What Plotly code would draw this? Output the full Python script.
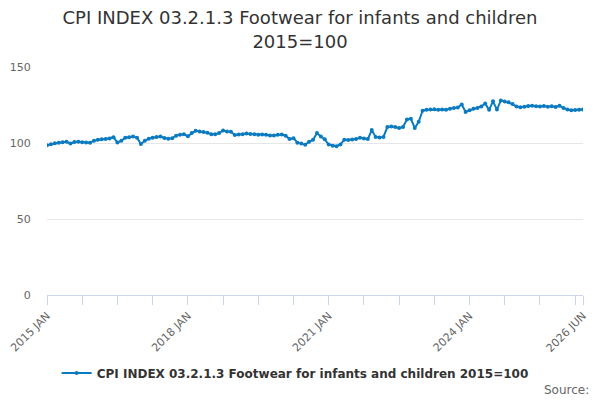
import plotly.graph_objects as go

years = list(range(2015, 2027))
month_names = ["JAN", "FEB", "MAR", "APR", "MAY", "JUN",
               "JUL", "AUG", "SEP", "OCT", "NOV", "DEC"]

v2015 = [98.5, 99.2, 99.8, 100.2, 100.5, 100.8, 99.6, 100.6, 100.8, 100.5, 100.3, 100.2]
v2016 = [101.5, 102.2, 102.4, 102.6, 103.0, 103.8, 100.3, 101.5, 103.5, 103.8, 104.2, 103.5]
v2017 = [99.3, 101.5, 102.8, 103.5, 104.0, 104.2, 103.3, 102.8, 103.2, 104.8, 105.5, 105.8]
v2018 = [104.5, 106.5, 108.0, 107.5, 107.2, 106.8, 105.8, 105.8, 106.5, 108.2, 107.6, 107.4]
v2019 = [105.3, 105.6, 105.8, 106.2, 105.9, 105.7, 105.4, 105.6, 105.5, 104.9, 105.0, 105.4]
v2020 = [105.6, 104.8, 102.6, 103.2, 100.2, 99.6, 98.9, 100.8, 102.2, 106.5, 104.2, 102.4]
v2021 = [99.0, 98.2, 97.9, 99.0, 102.2, 102.0, 102.3, 102.7, 103.5, 103.0, 102.6, 108.5]
v2022 = [104.0, 103.7, 104.0, 110.5, 110.8, 110.5, 109.8, 110.6, 115.5, 116.0, 109.8, 114.0]
v2023 = [121.2, 121.8, 122.0, 122.2, 121.9, 122.0, 121.8, 122.5, 123.0, 123.4, 125.3, 120.4]
v2024 = [121.5, 122.5, 123.0, 124.0, 126.0, 121.8, 127.4, 122.0, 128.0, 127.3, 126.8, 125.6]
v2025 = [124.0, 123.5, 123.9, 124.3, 124.5, 124.2, 124.0, 124.3, 123.8, 124.1, 123.7, 124.5]
v2026 = [123.0, 122.0, 121.6, 121.7, 121.8, 122.0]

values = v2015 + v2016 + v2017 + v2018 + v2019 + v2020 + v2021 + v2022 + v2023 + v2024 + v2025 + v2026
months = [f"{y} {m}" for y in years for m in month_names][:len(values)]

label_months = ["2015 JAN", "2018 JAN", "2021 JAN", "2024 JAN", "2026 JUN"]
y_ticks = [0, 50, 100, 150]

series_name = "CPI INDEX 03.2.1.3 Footwear for infants and children 2015=100"
title_text = "CPI INDEX 03.2.1.3 Footwear for infants and children<br>2015=100"

tick_idx = list(range(0, len(months), 9))
if tick_idx[-1] != len(months) - 1:
    tick_idx.append(len(months) - 1)
tickvals = [months[i] for i in tick_idx]
ticktext = [m if m in label_months else "" for m in tickvals]

fig = go.Figure()
fig.add_trace(go.Scatter(
    x=months, y=values, mode="lines+markers", name=series_name,
    line=dict(color="#0b7bc1", width=2),
    marker=dict(color="#0b7bc1", size=4),
))

fig.update_layout(
    width=600, height=400,
    margin=dict(l=47, r=17, t=67, b=105, autoexpand=False),
    paper_bgcolor="white", plot_bgcolor="white",
    font=dict(family="DejaVu Sans", color="#666666"),
    title=dict(text=title_text, x=0.5, xanchor="center", y=0.939, yanchor="top",
               font=dict(size=18, color="#333333", family="DejaVu Sans")),
    showlegend=True,
    legend=dict(orientation="h", x=0.463, xanchor="center", yref="container", y=0.0675,
                yanchor="middle", font=dict(size=12, color="#333333", weight="bold"),
                itemwidth=30),
    xaxis=dict(type="category", range=[0, len(months) - 1], tickvals=tickvals,
               ticktext=ticktext, tickangle=-45, ticks="outside", ticklen=9,
               tickcolor="#ccd6eb", showline=True, linecolor="#ccd6eb", linewidth=1,
               showgrid=False, zeroline=False, automargin=False,
               tickfont=dict(size=11, color="#666666")),
    yaxis=dict(range=[0, 150], tickvals=y_ticks, showgrid=True, gridcolor="#e6e6e6",
               zeroline=False, showline=False, automargin=False,
               tickfont=dict(size=11, color="#666666"),
               ticks="outside", ticklen=13, tickcolor="rgba(0,0,0,0)"),
    annotations=[dict(text="Source:", xref="paper", yref="paper", x=1.014, y=-0.417,
                      xanchor="right", yanchor="middle", showarrow=False,
                      font=dict(size=12, color="#666666"))],
)

fig.write_html("out.html", config={"displayModeBar": False},
               post_script="document.body.style.margin='0';")
